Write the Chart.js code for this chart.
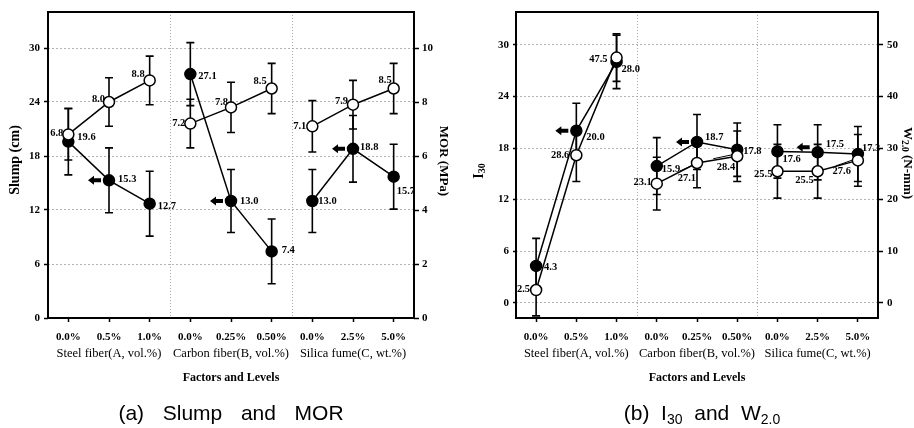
<!DOCTYPE html>
<html><head><meta charset="utf-8">
<script src="https://cdn.jsdelivr.net/npm/chart.js@4.4.0/dist/chart.umd.min.js"></script>
<style>
html,body{margin:0;padding:0;background:#fff;}
#wrap{position:relative;width:914px;height:428px;overflow:hidden;background:#fff;}
canvas{position:absolute;top:0;}
#ca{left:0;} #cb{left:457px;}
.cap{position:absolute;top:401px;font-family:"Liberation Sans",Arial,sans-serif;font-size:21px;white-space:pre;transform:translateX(-50%);color:#000;line-height:24px;}
.cap sub{font-size:14px;vertical-align:-4px;line-height:0;}
</style></head>
<body><div id="wrap">
<canvas id="ca" width="457" height="428"></canvas>
<canvas id="cb" width="457" height="428"></canvas>
<div class="cap" style="left:231px;word-spacing:3.5px">(a)  Slump  and  MOR</div>
<div class="cap" style="left:702px">(b)  I<sub>30</sub>  and  W<sub>2.0</sub></div>
</div>
<script>
// ---------- data ----------
const levelLabels = ['0.0%','0.5%','1.0%','0.0%','0.25%','0.50%','0.0%','2.5%','5.0%'];
const groupLabels = ['Steel fiber(A, vol.%)','Carbon fiber(B, vol.%)','Silica fume(C, wt.%)'];
const slump    = [19.6,15.3,12.7,27.1,13.0,7.4,13.0,18.8,15.7];
const slumpErr = [3.7,3.6,3.6,3.5,3.5,3.6,3.5,3.7,3.6];
const mor      = [6.8,8.0,8.8,7.2,7.8,8.5,7.1,7.9,8.5];
const morErr   = [0.95,0.9,0.9,0.9,0.93,0.93,0.95,0.9,0.93];
const i30      = [4.3,20.0,28.0,15.9,18.7,17.8,17.6,17.5,17.3];
const i30Err   = [3.2,3.2,3.1,3.3,3.2,3.1,3.1,3.2,3.2];
const w20      = [2.5,28.6,47.5,23.1,27.1,28.4,25.5,25.5,27.6];
const w20Err   = [5.0,5.1,4.6,5.1,4.8,4.9,5.2,5.2,5.0];
const slumpTicks = [0,6,12,18,24,30];
const morTicks   = [0,2,4,6,8,10];
const i30Ticks   = [0,6,12,18,24,30];
const w20Ticks   = [0,10,20,30,40,50];
const optimalA = [1,4,7];   // arrowed levels (slump)
const optimalB = [1,4,7];   // arrowed levels (I30)

// ---------- styling / placement ----------
const SERIF = '"Liberation Serif","Times New Roman",serif';
const labSlump = [[9,-4,'left'],[9,-1,'left'],[8,3,'left'],[8,2,'left'],[9,0,'left'],[10,-1,'left'],[6,0,'left'],[7,-2,'left'],[3,15,'left']];
const labMor   = [[-5,-1,'right'],[-4,-3,'right'],[-5,-6,'right'],[-5,0,'right'],[-3,-5,'right'],[-5,-7,'right'],[-6,0,'right'],[-5,-3,'right'],[-2,-8,'right']];
const labI30   = [[8,1,'left'],[10,6,'left'],[5,7,'left'],[5,3,'left'],[8,-5,'left'],[6,2,'left'],[5,8,'left'],[8,-8,'left'],[4,-6,'left']];
const labW     = [[-6,-1,'right'],[-7,0,'right'],[-9,2,'right'],[-5,-1,'right'],[-1,15,'right',[-17,8,-6,3]],[-2,11,'right',[-24,2.5,-5,-1.5]],[-5,3,'right'],[-4,9,'right'],[-7,11,'right',[-22,5.5,-5,-0.5]]];

function yAxis(pos, min, max, ticks, width, tickLen, pad, gridOn){
  return {type:'linear', position:pos, min:min, max:max,
    afterBuildTicks: s => { s.ticks = ticks.map(v=>({value:v})); },
    afterFit: s => { s.width = width; },
    grid:{display:true, drawOnChartArea:gridOn, color:'#b4b4b4', lineWidth:1, drawTicks:true,
          tickLength:tickLen, tickColor:'#000', tickWidth:1.5, tickBorderDash:[]},
    border:{display:false, dash:[2,2]},
    ticks:{color:'#000', font:{family:SERIF, weight:'bold', size:11}, padding:pad}
  };
}
function xAxes(){
  return {
    x:{type:'category', labels:levelLabels, offset:true, position:'bottom',
       afterFit: s => { s.height = 27; },
       grid:{display:true, drawOnChartArea:false, drawTicks:true, tickLength:4, tickColor:'#000', tickWidth:1.5, offset:false},
       border:{display:false},
       ticks:{color:'#000', font:{family:SERIF, weight:'bold', size:11}, padding:9, maxRotation:0, autoSkip:false}},
    xg:{type:'category', labels:groupLabels, offset:true, position:'bottom',
       afterFit: s => { s.height = 42; },
       grid:{display:false}, border:{display:false},
       ticks:{color:'#000', font:{family:SERIF, size:12.5}, padding:-7, maxRotation:0, autoSkip:false},
       title:{display:true, text:'Factors and Levels', color:'#000', font:{family:SERIF, weight:'bold', size:12}, padding:{top:0,bottom:2}}}
  };
}
const gapSeg = {borderColor: c => (c.p0DataIndex===2||c.p0DataIndex===5) ? 'rgba(0,0,0,0)' : '#000'};
function ds(data, axis, filled){
  return {data:data, yAxisID:axis, xAxisID:'x', borderColor:'#000', borderWidth:1.5, segment:gapSeg,
    pointRadius:5.5, pointBorderWidth:1.5, pointBorderColor:'#000',
    pointBackgroundColor: filled ? '#000' : '#fff', fill:false, tension:0};
}

function drawRich(ctx, parts, x, y, rot){
  ctx.save(); ctx.translate(x,y); ctx.rotate(rot);
  let total = 0;
  parts.forEach(p => { ctx.font = 'bold '+p[1]+'px '+SERIF; total += ctx.measureText(p[0]).width; });
  let cx = -total/2;
  ctx.textBaseline='middle'; ctx.textAlign='left'; ctx.fillStyle='#000';
  parts.forEach(p => { ctx.font = 'bold '+p[1]+'px '+SERIF; ctx.fillText(p[0], cx, p[2]); cx += ctx.measureText(p[0]).width; });
  ctx.restore();
}

const decor = {
  id:'decor',
  beforeDatasetsDraw(chart){
    const o = chart.options.plugins.decor, ctx = chart.ctx, ca = chart.chartArea, xs = chart.scales.x;
    ctx.save();
    ctx.strokeStyle='#a8a8a8'; ctx.lineWidth=1; ctx.setLineDash([1,2]);
    [2.5,5.5].forEach(v => { const x = Math.round(xs.getPixelForValue(v))+0.5;
      ctx.beginPath(); ctx.moveTo(x, ca.top); ctx.lineTo(x, ca.bottom); ctx.stroke(); });
    ctx.setLineDash([]);
    ctx.beginPath(); ctx.rect(ca.left, ca.top, ca.right-ca.left, ca.bottom-ca.top); ctx.clip();
    ctx.strokeStyle='#000'; ctx.lineWidth=1.6;
    o.errors.forEach(e => {
      const ys = chart.scales[e.axis];
      e.values.forEach((v,i) => {
        const x = xs.getPixelForValue(i), t = ys.getPixelForValue(v+e.err[i]), b = ys.getPixelForValue(v-e.err[i]);
        ctx.beginPath(); ctx.moveTo(x,t); ctx.lineTo(x,b);
        ctx.moveTo(x-4,t); ctx.lineTo(x+4,t); ctx.moveTo(x-4,b); ctx.lineTo(x+4,b); ctx.stroke();
      });
    });
    ctx.restore();
  },
  afterDatasetsDraw(chart){
    const o = chart.options.plugins.decor, ctx = chart.ctx, ca = chart.chartArea, xs = chart.scales.x;
    ctx.save();
    ctx.strokeStyle='#000'; ctx.lineWidth=2;
    ctx.strokeRect(ca.left, ca.top, ca.right-ca.left, ca.bottom-ca.top);
    ctx.fillStyle='#000';
    o.arrows.forEach(a => {
      const ys = chart.scales[a.axis];
      a.idx.forEach((i,k) => {
        const px = xs.getPixelForValue(i), py = ys.getPixelForValue(a.values[i]) + (a.dy[k]||0);
        const x0 = px-21, x1 = px-8;
        ctx.beginPath(); ctx.moveTo(x0,py); ctx.lineTo(x0+6,py-4.5); ctx.lineTo(x0+6,py-2); ctx.lineTo(x1,py-2);
        ctx.lineTo(x1,py+2); ctx.lineTo(x0+6,py+2); ctx.lineTo(x0+6,py+4.5); ctx.closePath(); ctx.fill();
      });
    });
    ctx.font = 'bold 10.5px '+SERIF; ctx.textBaseline='middle'; ctx.strokeStyle='#000'; ctx.lineWidth=1;
    o.labels.forEach(l => {
      const ys = chart.scales[l.axis];
      l.values.forEach((v,i) => {
        const px = xs.getPixelForValue(i), py = ys.getPixelForValue(v), p = l.place[i];
        ctx.textAlign = p[2];
        ctx.fillText(v.toFixed(1), px+p[0], py+p[1]);
        if (p[3]) { ctx.beginPath(); ctx.moveTo(px+p[3][0], py+p[3][1]); ctx.lineTo(px+p[3][2], py+p[3][3]); ctx.stroke(); }
      });
    });
    o.titles.forEach(t => drawRich(ctx, t.parts, t.x, t.y, t.rot));
    ctx.restore();
  }
};

function makeChart(id, datasets, scales, decorOpts){
  return new Chart(document.getElementById(id), {
    type:'line',
    data:{labels:levelLabels, datasets:datasets},
    options:{responsive:false, animation:false, events:[],
      layout:{padding:{top:12, bottom:41, left:0, right:0}},
      plugins:{legend:{display:false}, tooltip:{enabled:false}, decor:decorOpts},
      scales:scales},
    plugins:[decor]
  });
}

// ---------- (a) Slump and MOR ----------
makeChart('ca',
  [ds(mor,'y2',false), ds(slump,'y',true)],
  Object.assign(xAxes(), {
    y: yAxis('left', 0, 34, slumpTicks, 48, 4, 4, true),
    y2: yAxis('right', 0, 34/3, morTicks, 43, 5, 3, false)
  }),
  { errors:[{axis:'y', values:slump, err:slumpErr},{axis:'y2', values:mor, err:morErr}],
    arrows:[{axis:'y', values:slump, idx:optimalA, dy:[0,0,0]}],
    labels:[{axis:'y', values:slump, place:labSlump},{axis:'y2', values:mor, place:labMor}],
    titles:[{parts:[['Slump (cm)',14,0]], x:15, y:160, rot:-Math.PI/2},
            {parts:[['MOR (MPa)',13,0]], x:443, y:161, rot:Math.PI/2}] }
);

// ---------- (b) I30 and W2.0 ----------
makeChart('cb',
  [ds(w20,'y2',false), ds(i30,'y',true)],
  Object.assign(xAxes(), {
    y: yAxis('left', -1.75, 33.8, i30Ticks, 59, 3, 4, true),
    y2: yAxis('right', -1.75*10/6, 33.8*10/6, w20Ticks, 36, 5, 4, false)
  }),
  { errors:[{axis:'y', values:i30, err:i30Err},{axis:'y2', values:w20, err:w20Err}],
    arrows:[{axis:'y', values:i30, idx:optimalB, dy:[0,0,-5]}],
    labels:[{axis:'y', values:i30, place:labI30},{axis:'y2', values:w20, place:labW}],
    titles:[{parts:[['I',14,0],['30',10,3]], x:22, y:171, rot:-Math.PI/2},
            {parts:[['W',13,0],['2.0',9.5,3],[' (N-mm)',13,0]], x:450, y:163, rot:Math.PI/2}] }
);
</script>
</body></html>
